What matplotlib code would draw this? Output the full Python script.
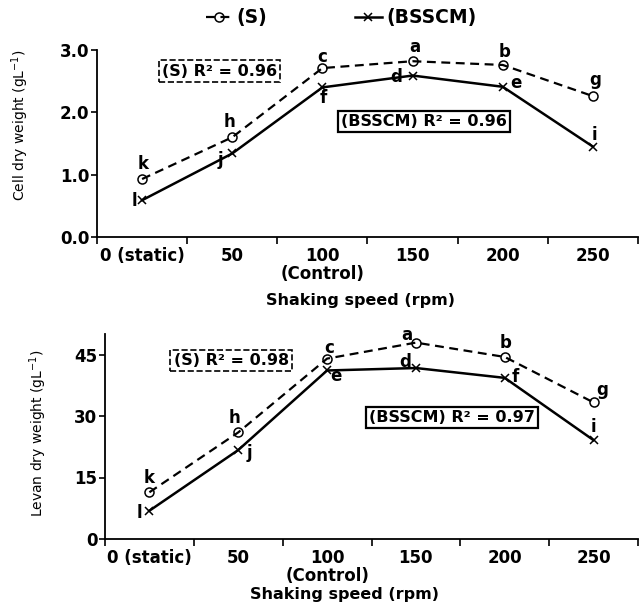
import matplotlib
matplotlib.use("Agg")
import matplotlib.pyplot as plt
from matplotlib.lines import Line2D

plt.rcParams['font.family'] = ['DejaVu Sans']

categories = ["0 (static)", "50", "100\n(Control)", "150", "200", "250"]

cell_s = [0.93, 1.60, 2.71, 2.82, 2.76, 2.26]
cell_b = [0.59, 1.34, 2.40, 2.59, 2.41, 1.45]
cell_s_letters = ["k", "h", "c", "a", "b", "g"]
cell_b_letters = ["l", "j", "f", "d", "e", "i"]

levan_s = [11.4, 26.0, 44.0, 47.9, 44.4, 33.3]
levan_b = [6.9, 21.7, 41.1, 41.7, 39.3, 24.1]
levan_s_letters = ["k", "h", "c", "a", "b", "g"]
levan_b_letters = ["l", "j", "e", "d", "f", "i"]

cell_yticks = [0.0, 1.0, 2.0, 3.0]
levan_yticks = [0, 15, 30, 45]

fig = plt.figure(figsize=(6.39, 6.03), dpi=100)
ax1 = fig.add_axes([97/639, 1-237/603, 541/639, 187/603])
ax2 = fig.add_axes([105/639, 1-539/603, 533/639, 205/603])

x = list(range(len(categories)))
TICK_FS = 12

def style(ax, yticks, fmt):
    for s in ["top", "right"]:
        ax.spines[s].set_visible(False)
    for s in ["left", "bottom"]:
        ax.spines[s].set_linewidth(1.3)
    ax.set_xlim(-0.5, len(categories) - 0.5)
    ax.set_xticks([i - 0.5 for i in range(len(categories) + 1)])
    ax.set_xticklabels([])
    ax.set_xticks(x, minor=True)
    ax.set_xticklabels(categories, minor=True, fontsize=TICK_FS, fontweight='bold', linespacing=1.0)
    ax.tick_params(axis='x', which='major', length=5, width=1.2, direction='out')
    ax.tick_params(axis='x', which='minor', length=0, pad=7)
    ax.set_yticks(yticks)
    ax.set_yticklabels([fmt.format(v) for v in yticks], fontsize=TICK_FS, fontweight='bold')
    ax.tick_params(axis='y', length=4, width=1.2, direction='out', pad=1.5)

def plot(ax, s, b):
    ax.plot(x, s, linestyle=(0, (4, 2.5)), color='black', lw=1.6, marker='o',
            markersize=6.5, markerfacecolor='none', markeredgecolor='black', markeredgewidth=1.1)
    ax.plot(x, b, linestyle='-', color='black', lw=1.8, marker='x',
            markersize=5.5, markeredgewidth=1.1)

def letters(ax, vals, labs, offsets):
    for xi, v, lab, off in zip(x, vals, labs, offsets):
        ax.annotate(lab, (xi, v), xytext=off, textcoords='offset pixels',
                    ha='center', va='center', fontsize=12, fontweight='bold')

box_s = dict(boxstyle='square,pad=0.2', facecolor='white', edgecolor='black', linestyle='--', lw=1.2)
box_b = dict(boxstyle='square,pad=0.2', facecolor='white', edgecolor='black', lw=1.6)

# Top chart
plot(ax1, cell_s, cell_b)
style(ax1, cell_yticks, "{:.1f}")
ax1.set_ylim(0, 3.0)
letters(ax1, cell_s, cell_s_letters, [(1, 15), (-3, 15), (0, 11), (2, 14), (2, 13), (2, 16)])
letters(ax1, cell_b, cell_b_letters, [(-8, -1), (-12, -7), (1, -11), (-16, -1), (13, 4), (2, 12)])
ax1.set_ylabel("Cell dry weight (gL$^{\\mathregular{-1}}$)", fontsize=10)
ax1.yaxis.set_label_coords(-0.122, 0.6)
ax1.text(0.86, 2.66, "(S) R² = 0.96", ha='center', va='center', fontsize=11.5, fontweight='bold', bbox=box_s)
ax1.text(3.13, 1.85, "(BSSCM) R² = 0.96", ha='center', va='center', fontsize=11.5, fontweight='bold', bbox=box_b)
fig.text(360/639, 1-300/603, "Shaking speed (rpm)", ha='center', va='center', fontsize=11.5, fontweight='bold')

# Bottom chart
plot(ax2, levan_s, levan_b)
style(ax2, levan_yticks, "{:d}")
ax2.set_ylim(0, 50)
letters(ax2, levan_s, levan_s_letters, [(0, 14), (-4, 14), (2, 11), (-9, 8), (1, 14), (9, 12)])
letters(ax2, levan_b, levan_b_letters, [(-10, -2), (11, -3), (9, -6), (-11, 6), (10, 1), (0, 13)])
ax2.set_ylabel("Levan dry weight (gL$^{\\mathregular{-1}}$)", fontsize=10)
ax2.yaxis.set_label_coords(-0.105, 0.515)
ax2.text(0.92, 43.5, "(S) R² = 0.98", ha='center', va='center', fontsize=11.5, fontweight='bold', bbox=box_s)
ax2.text(3.41, 29.6, "(BSSCM) R² = 0.97", ha='center', va='center', fontsize=11.5, fontweight='bold', bbox=box_b)
fig.text(345/639, 1-594/603, "Shaking speed (rpm)", ha='center', va='center', fontsize=11.5, fontweight='bold')

# Legend
handles = [
    Line2D([], [], linestyle=(0, (4, 2.5)), color='black', lw=1.6, marker='o', markersize=6.5,
           markerfacecolor='none', markeredgewidth=1.1),
    Line2D([], [], linestyle='-', color='black', lw=1.8, marker='x', markersize=5.5, markeredgewidth=1.1),
]
fig.legend(handles, ["(S)", "(BSSCM)"], loc='center', bbox_to_anchor=(341/639, 1-18/603), ncol=2,
           frameon=False, handlelength=1.4, handletextpad=0.25, columnspacing=4.7,
           prop={'weight': 'bold', 'size': 13.5})

fig.savefig("out.png", dpi=100)
